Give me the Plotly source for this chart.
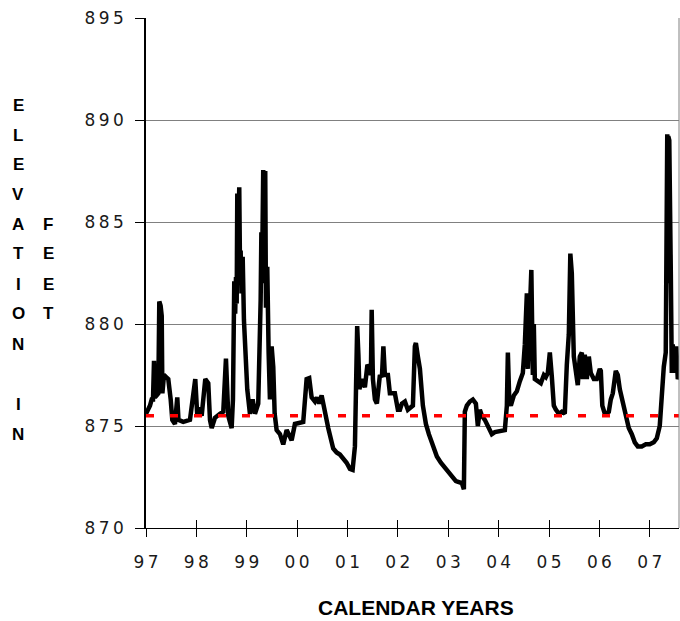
import plotly.graph_objects as go

# Daily lake elevation record (decimal calendar year, feet above sea level)
t_year = [
    1997.000, 1997.040, 1997.079, 1997.113, 1997.139, 1997.159, 1997.179, 1997.244,
    1997.264, 1997.290, 1997.312, 1997.325, 1997.357, 1997.400, 1997.442, 1997.490,
    1997.522, 1997.575, 1997.621, 1997.645, 1997.740, 1997.873, 1997.927, 1997.978,
    1998.018, 1998.058, 1998.105, 1998.177, 1998.236, 1998.270, 1998.304, 1998.369,
    1998.468, 1998.534, 1998.587, 1998.633, 1998.700, 1998.726, 1998.752, 1998.770,
    1998.786, 1998.800, 1998.812, 1998.831, 1998.851, 1998.865, 1998.879, 1998.895,
    1998.919, 1998.944, 1998.984, 1999.010, 1999.063, 1999.117, 1999.163, 1999.228,
    1999.276, 1999.290, 1999.302, 1999.327, 1999.347, 1999.367, 1999.381, 1999.407,
    1999.434, 1999.460, 1999.494, 1999.526, 1999.554, 1999.593, 1999.659, 1999.724,
    1999.792, 1999.891, 1999.956, 2000.121, 2000.188, 2000.240, 2000.288, 2000.353,
    2000.393, 2000.438, 2000.486, 2000.532, 2000.617, 2000.716, 2000.784, 2000.849,
    2000.915, 2000.982, 2001.048, 2001.101, 2001.147, 2001.167, 2001.192, 2001.216,
    2001.236, 2001.286, 2001.345, 2001.395, 2001.425, 2001.464, 2001.480, 2001.504,
    2001.544, 2001.583, 2001.643, 2001.683, 2001.712, 2001.742, 2001.802, 2001.841,
    2001.940, 2002.000, 2002.040, 2002.079, 2002.139, 2002.198, 2002.298, 2002.337,
    2002.357, 2002.397, 2002.437, 2002.496, 2002.556, 2002.615, 2002.694, 2002.774,
    2002.853, 2002.952, 2003.052, 2003.151, 2003.270, 2003.310, 2003.329, 2003.369,
    2003.429, 2003.488, 2003.548, 2003.587, 2003.627, 2003.667, 2003.726, 2003.786,
    2003.865, 2003.925, 2004.024, 2004.123, 2004.163, 2004.183, 2004.212, 2004.242,
    2004.302, 2004.361, 2004.421, 2004.480, 2004.520, 2004.560, 2004.579, 2004.619,
    2004.649, 2004.679, 2004.698, 2004.718, 2004.778, 2004.837, 2004.897, 2004.937,
    2004.976, 2005.016, 2005.056, 2005.095, 2005.135, 2005.194, 2005.254, 2005.313,
    2005.353, 2005.393, 2005.423, 2005.452, 2005.492, 2005.532, 2005.571, 2005.611,
    2005.651, 2005.671, 2005.710, 2005.750, 2005.790, 2005.829, 2005.889, 2005.948,
    2006.008, 2006.028, 2006.058, 2006.107, 2006.187, 2006.226, 2006.266, 2006.325,
    2006.365, 2006.405, 2006.464, 2006.524, 2006.583, 2006.643, 2006.702, 2006.762,
    2006.841, 2006.921, 2007.000, 2007.079, 2007.139, 2007.198, 2007.238, 2007.278,
    2007.317, 2007.347, 2007.357, 2007.367, 2007.387, 2007.417, 2007.437, 2007.456,
    2007.496, 2007.526, 2007.556, 2007.575,
]

elev_ft = [
    875.6, 875.8, 876.0, 876.3, 876.3, 878.2, 876.4, 876.6,
    881.1, 880.9, 880.4, 876.6, 877.5, 877.4, 877.3, 876.3,
    875.3, 875.1, 876.4, 875.3, 875.2, 875.3, 876.6, 877.3,
    875.5, 875.9, 875.5, 877.3, 877.1, 875.3, 874.9, 875.4,
    875.6, 875.7, 878.3, 875.5, 874.9, 876.3, 882.1, 880.5,
    882.3, 881.0, 886.4, 884.0, 886.7, 883.0, 883.6, 881.5,
    883.3, 880.2, 878.6, 876.8, 875.6, 876.3, 875.6, 876.1,
    881.2, 884.5, 882.0, 887.55, 884.0, 887.5, 880.8, 882.8,
    878.6, 876.3, 878.9, 877.9, 875.6, 874.8, 874.6, 874.1,
    874.8, 874.3, 875.1, 875.2, 877.3, 877.35, 876.4, 876.2,
    876.4, 876.1, 876.5, 875.9, 874.9, 873.9, 873.7, 873.6,
    873.4, 873.2, 872.9, 872.85, 874.0, 875.9, 879.9, 878.5,
    876.8, 877.3, 876.9, 878.0, 877.9, 877.5, 880.7, 877.3,
    876.3, 876.1, 877.5, 877.4, 878.9, 877.5, 877.5, 876.6,
    876.6, 875.8, 875.8, 876.1, 876.2, 875.8, 876.0, 878.9,
    879.07, 878.4, 877.8, 876.0, 875.1, 874.6, 874.0, 873.5,
    873.2, 872.9, 872.6, 872.3, 872.2, 871.9, 875.7, 876.0,
    876.2, 876.3, 876.1, 875.0, 875.8, 875.5, 875.3, 875.0,
    874.6, 874.7, 874.75, 874.8, 876.0, 878.6, 876.2, 876.0,
    876.5, 876.7, 877.2, 877.6, 879.0, 881.5, 877.8, 881.4,
    882.65, 877.5, 880.0, 877.3, 877.2, 877.1, 877.5, 877.4,
    877.6, 878.6, 877.4, 876.0, 875.8, 875.6, 875.7, 875.6,
    878.0, 879.5, 883.45, 882.5, 878.4, 877.5, 877.0, 878.4,
    878.6, 877.3, 878.5, 877.3, 878.4, 877.6, 877.3, 877.3,
    877.8, 877.7, 876.0, 875.6, 875.7, 876.3, 876.6, 877.7,
    877.5, 876.8, 876.2, 875.6, 874.9, 874.6, 874.2, 874.0,
    874.0, 874.1, 874.1, 874.2, 874.4, 875.0, 876.6, 877.9,
    878.6, 889.3, 882.0, 889.2, 889.0, 882.6, 877.6, 879.0,
    877.6, 878.9, 877.3, 877.4,
]

# Reference pool level drawn as a dashed line
target_level = 875.5

x_range = [1997.0, 2007.58]
year_ticks = [1997, 1998, 1999, 2000, 2001, 2002, 2003, 2004, 2005, 2006, 2007]
year_labels = ["97", "98", "99", "00", "01", "02", "03", "04", "05", "06", "07"]
elev_ticks = [870, 875, 880, 885, 890, 895]

THIN = "\u2009"


def spaced(s):
    return THIN.join(s)


W, H = 680, 621
M_L, M_R, M_T, M_B = 146, 1, 18, 93
PLOT_W = W - M_L - M_R
PLOT_H = H - M_T - M_B


def px_x(px):
    return (px - M_L) / PLOT_W


def px_y(py):
    return (H - M_B - py) / PLOT_H


tick_font = dict(family="DejaVu Sans", size=17, color="#1a1a1a")
title_font = dict(family="Liberation Sans", size=17, color="#000000")

fig = go.Figure()

fig.add_trace(go.Scatter(
    x=t_year, y=elev_ft, mode="lines",
    line=dict(color="#000000", width=4.5),
    hoverinfo="skip", showlegend=False,
))

fig.add_trace(go.Scatter(
    x=x_range, y=[target_level, target_level], mode="lines",
    line=dict(color="#ff0000", width=3.5, dash="8px,16px"),
    hoverinfo="skip", showlegend=False,
))

# companion axis that carries the upward half of the crossing x ticks
fig.add_trace(go.Scatter(x=[], y=[], xaxis="x2", showlegend=False))

fig.update_layout(
    width=W, height=H,
    margin=dict(l=M_L, r=M_R, t=M_T, b=M_B),
    paper_bgcolor="white", plot_bgcolor="white",
    showlegend=False,
    xaxis=dict(
        range=x_range, tickmode="array", tickvals=year_ticks,
        ticktext=[spaced(s) for s in year_labels],
        ticks="outside", ticklen=8, tickwidth=1, tickcolor="#000000",
        showline=True, linecolor="#000000", linewidth=1,
        showgrid=False, zeroline=False, tickfont=tick_font,
        ticklabelstandoff=11,
    ),
    xaxis2=dict(
        range=x_range, overlaying="x", anchor="y", side="bottom",
        tickmode="array", tickvals=year_ticks,
        ticks="inside", ticklen=8, tickwidth=1, tickcolor="#000000",
        showticklabels=False, showline=False, showgrid=False, zeroline=False,
    ),
    yaxis=dict(
        range=[870, 895], tickmode="array", tickvals=elev_ticks,
        ticktext=[spaced(str(v)) for v in elev_ticks],
        ticks="outside", ticklen=9, tickwidth=1, tickcolor="#000000",
        showline=True, linecolor="#000000", linewidth=1.5,
        showgrid=True, gridcolor="#808080", gridwidth=1,
        zeroline=False, tickfont=tick_font, ticklabelstandoff=8,
    ),
    shapes=[dict(
        type="line", xref="paper", yref="paper", x0=1, x1=1, y0=0, y1=1,
        line=dict(color="#808080", width=1),
    )],
)

annotations = [dict(
    text="<b>CALENDAR YEARS</b>", xref="paper", yref="paper",
    x=px_x(416), y=px_y(607), xanchor="center", yanchor="middle",
    showarrow=False, font=dict(family="Liberation Sans", size=21, color="#000000"),
)]

# stacked vertical axis caption, one letter per line
col1 = [("E", 105.5), ("L", 135.2), ("E", 164.5), ("V", 194.2), ("A", 224.6),
        ("T", 253.9), ("I", 284.3), ("O", 314.0), ("N", 344.4),
        ("I", 404.9), ("N", 434.6)]
col2 = [("F", 224.6), ("E", 253.9), ("E", 284.3), ("T", 314.0)]
for letters, cx in ((col1, 18), (col2, 48)):
    for ch, cy in letters:
        annotations.append(dict(
            text=f"<b>{ch}</b>", xref="paper", yref="paper",
            x=px_x(cx), y=px_y(cy), xanchor="center", yanchor="middle",
            showarrow=False, font=title_font,
        ))

fig.update_layout(annotations=annotations)

fig.write_html("out.html")
